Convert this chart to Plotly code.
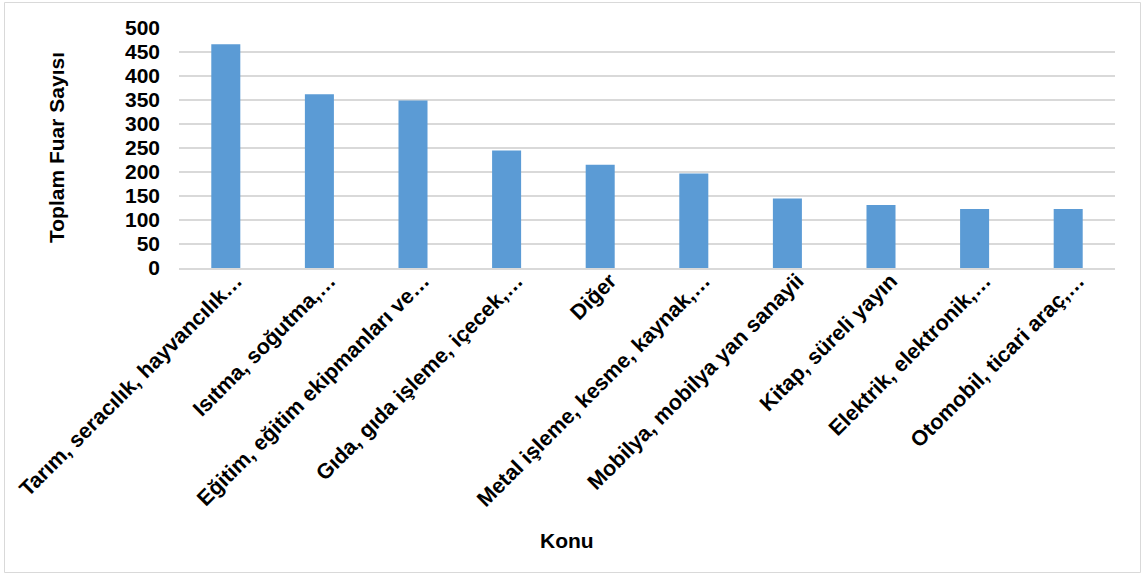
import plotly.graph_objects as go

categories = [
    "Tarım, seracılık, hayvancılık…",
    "Isıtma, soğutma,…",
    "Eğitim, eğitim ekipmanları ve…",
    "Gıda, gıda işleme, içecek,…",
    "Diğer",
    "Metal işleme, kesme, kaynak,…",
    "Mobilya, mobilya yan sanayii",
    "Kitap, süreli yayın",
    "Elektrik, elektronik,…",
    "Otomobil, ticari araç,…",
]
values = [466, 362, 349, 245, 215, 197, 145, 131, 123, 123]
y_ticks = [0, 50, 100, 150, 200, 250, 300, 350, 400, 450, 500]

W, H = 1144, 575
ML, MR, MT, MB = 179, 29, 28, 307
PW, PH = W - ML - MR, H - MT - MB

def px_x(p):
    return (p - ML) / PW

def px_y(p):
    return (H - MB - p) / PH

FONT = "Liberation Sans, Arial, sans-serif"

fig = go.Figure(go.Bar(
    x=categories, y=values,
    marker=dict(color="#5B9BD5", line=dict(width=0)),
    hoverinfo="x+y",
))

fig.update_layout(
    width=W, height=H,
    margin=dict(l=ML, r=MR, t=MT, b=MB, autoexpand=False),
    paper_bgcolor="white", plot_bgcolor="white",
    bargap=0.69,
    showlegend=False,
    font=dict(family=FONT, color="black"),
)
fig.update_yaxes(
    range=[0, 500], tickvals=y_ticks, ticktext=[str(v) for v in y_ticks],
    showgrid=True, gridcolor="#d9d9d9", gridwidth=1.5,
    zeroline=False, showline=False, ticks="",
    tickfont=dict(family=FONT, size=21, color="black", weight="bold"),
    ticklabelstandoff=18,
)
fig.update_xaxes(
    showline=True, linecolor="#d9d9d9", linewidth=1.5,
    showgrid=False, ticks="", tickangle=-45,
    tickfont=dict(family=FONT, size=21.5, color="black", weight="bold"),
    ticklabelshift=10,
    ticklabelstandoff=-10,
)

fig.add_annotation(
    text="Toplam Fuar Sayısı", textangle=-90,
    x=px_x(56), y=px_y(148), xref="paper", yref="paper",
    showarrow=False, xanchor="center", yanchor="middle",
    font=dict(family=FONT, size=21, color="black", weight="bold"),
)
fig.add_annotation(
    text="Konu",
    x=px_x(567), y=px_y(540), xref="paper", yref="paper",
    showarrow=False, xanchor="center", yanchor="middle",
    font=dict(family=FONT, size=21, color="black", weight="bold"),
)
fig.add_shape(
    type="rect", xref="paper", yref="paper",
    x0=px_x(4.5), x1=px_x(1140.5), y0=px_y(2.5), y1=px_y(572.5),
    line=dict(color="#d9d9d9", width=1), layer="below",
)

fig.write_html(
    "out.html",
    config={"displayModeBar": False},
    post_script="document.body.style.margin='0';document.body.style.overflow='hidden';",
)
